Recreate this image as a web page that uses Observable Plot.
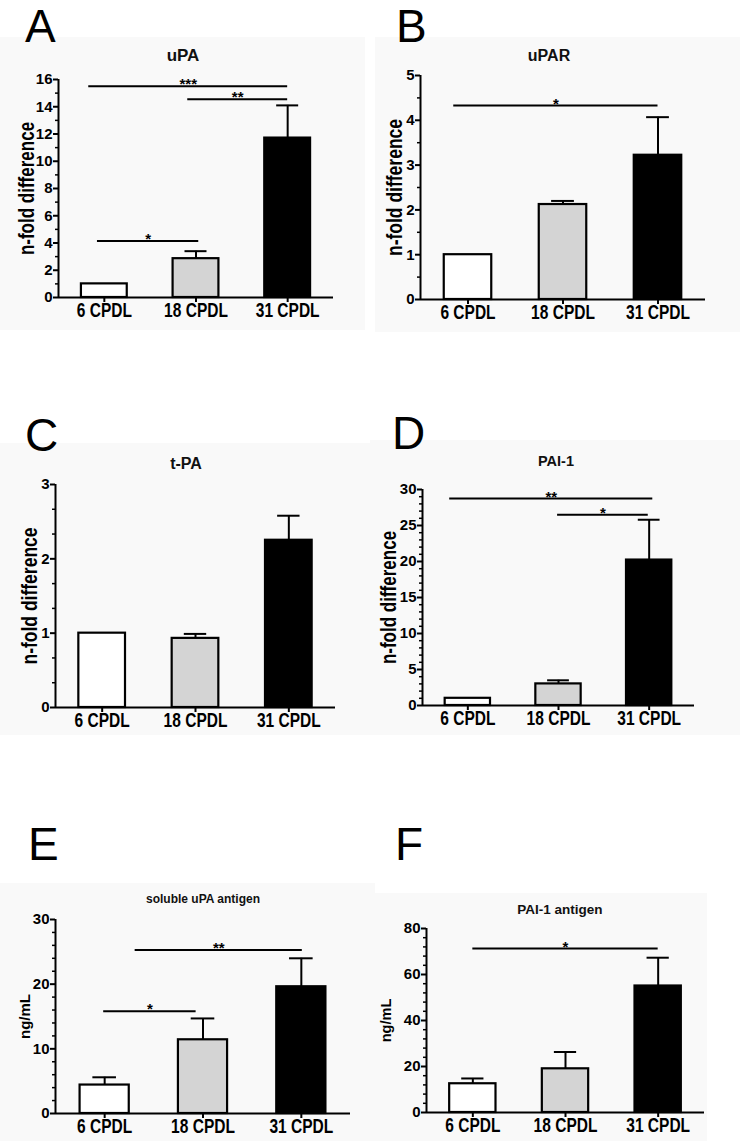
<!DOCTYPE html>
<html>
<head>
<meta charset="utf-8">
<script src="https://cdn.jsdelivr.net/npm/d3@7"></script>
<script src="https://cdn.jsdelivr.net/npm/@observablehq/plot@0.6"></script>
<style>
  html, body { margin: 0; padding: 0; background: #ffffff; }
  #page { position: relative; width: 740px; height: 1141px; overflow: hidden; font-family: "Liberation Sans", Arial, sans-serif; color: #000; }
  .panel { position: absolute; }
  .letter { position: absolute; font-size: 46px; line-height: 46px; font-weight: normal; color: #000; }
  .title { position: absolute; width: 240px; text-align: center; font-weight: bold; color: #111; white-space: nowrap; }
</style>
</head>
<body>
<div id="page"></div>
<script>
// ---------- data ----------
const categories = ["6 CPDL", "18 CPDL", "31 CPDL"];
const barColors = ["#ffffff", "#d4d4d4", "#000000"];

// A: uPA (n-fold difference)
const uPA_mean = [1, 2.85, 11.7];
const uPA_errTop = [null, 3.4, 14.1];
const uPA_sigFrom = [-0.17, 0.91, -0.075];
const uPA_sigTo = [2.0, 2.0, 1.03];
const uPA_sigY = [15.5, 14.55, 4.15];
const uPA_sigText = ["***", "**", "*"];

// B: uPAR
const uPAR_mean = [1, 2.12, 3.22];
const uPAR_errTop = [null, 2.2, 4.07];
const uPAR_sigFrom = [-0.15];
const uPAR_sigTo = [2.0];
const uPAR_sigY = [4.33];
const uPAR_sigText = ["*"];

// C: t-PA
const tPA_mean = [1, 0.93, 2.25];
const tPA_errTop = [null, 0.99, 2.58];
const tPA_sigFrom = [];
const tPA_sigTo = [];
const tPA_sigY = [];
const tPA_sigText = [];

// D: PAI-1
const PAI1_mean = [1, 3.0, 20.2];
const PAI1_errTop = [null, 3.5, 25.8];
const PAI1_sigFrom = [-0.2, 0.99];
const PAI1_sigTo = [2.04, 1.99];
const PAI1_sigY = [28.75, 26.5];
const PAI1_sigText = ["**", "*"];

// E: soluble uPA antigen (ng/mL)
const suPA_mean = [4.4, 11.4, 19.6];
const suPA_errTop = [5.6, 14.7, 24.0];
const suPA_sigFrom = [-0.01, 0.31];
const suPA_sigTo = [0.93, 2.01];
const suPA_sigY = [15.8, 25.3];
const suPA_sigText = ["*", "**"];

// F: PAI-1 antigen (ng/mL)
const PAI1ag_mean = [12.5, 19, 55];
const PAI1ag_errTop = [14.8, 26.3, 67.3];
const PAI1ag_sigFrom = [0];
const PAI1ag_sigTo = [2];
const PAI1ag_sigY = [71.3];
const PAI1ag_sigText = ["*"];

// axis settings (domain max, major step, minor per major)
const yMax = { A: 16, B: 5, C: 3, D: 30, E: 30, F: 80 };
const yMajor = { A: 2, B: 1, C: 1, D: 5, E: 10, F: 20 };
const yMinorPer = { A: 2, B: 2, C: 3, D: 5, E: 5, F: 5 };

// ---------- drawing ----------
const page = document.getElementById("page");
const BG = "#f9f9f9";

// condense a text: keep the advance width it has at baseSize, but draw it taller
function condense(t, baseSize, tallSize) {
  t.style.fontSize = baseSize + "px";
  t.style.fontWeight = "bold";
  const len = t.getComputedTextLength();
  t.style.fontSize = tallSize + "px";
  t.setAttribute("textLength", len.toFixed(1));
  t.setAttribute("lengthAdjust", "spacingAndGlyphs");
}

function drawPanel(cfg) {
  const { id, mean, errTop, sigFrom, sigTo, sigY, sigText, box, m, ylabel, labelDx, labelSize, labelTall } = cfg;
  const ymax = yMax[id], major = yMajor[id], per = yMinorPer[id];
  const bars = mean.map((v, i) => ({ i, mean: v, color: barColors[i] }));
  const errs = mean.map((v, i) => ({ i, mean: v, top: errTop[i] })).filter(d => d.top != null);
  const sig = sigFrom.map((f, k) => ({ x1: f, x2: sigTo[k], y: sigY[k], text: sigText[k] }));
  const majorTicks = d3.range(0, Math.round(ymax / major) + 1).map(k => k * major);
  const minorTicks = d3.range(0, Math.round(ymax / major) * per + 1)
    .filter(k => k % per !== 0).map(k => k * major / per);

  const chart = Plot.plot({
    width: box.w, height: box.h,
    marginLeft: m[0], marginRight: m[1], marginTop: m[2], marginBottom: m[3],
    style: { background: BG, color: "#000", fontFamily: "'Liberation Sans', Arial, sans-serif", fontSize: "15px", fontWeight: "bold", overflow: "visible" },
    x: { type: "linear", domain: [-0.5, 2.5], axis: null },
    y: { domain: [0, ymax], axis: null },
    color: { type: "identity" },
    marks: [
      Plot.axisY({ ticks: majorTicks, tickSize: 5, tickPadding: 1, strokeWidth: 2, fontSize: 15, fontWeight: "bold", label: null, tickFormat: d => d }),
      Plot.axisY({ ticks: minorTicks, tickSize: 3, tickPadding: 0, strokeWidth: 1.5, label: null, tickFormat: () => "" }),
      Plot.axisX({ ticks: [0, 1, 2], tickFormat: i => categories[i], tickSize: 5, tickPadding: 0, strokeWidth: 2, fontSize: 20, fontWeight: "bold", label: null }),
      Plot.ruleX([-0.5], { y1: 0, y2: ymax, strokeWidth: 2 }),
      Plot.ruleY([0], { strokeWidth: 2.2 }),
      Plot.ruleX(errs, { x: "i", y1: "mean", y2: "top", strokeWidth: 2 }),
      Plot.ruleY(errs, { x1: d => d.i - 0.12, x2: d => d.i + 0.12, y: "top", strokeWidth: 2 }),
      Plot.rectY(bars, { x1: d => d.i - 0.25, x2: d => d.i + 0.25, y1: 0, y2: "mean", fill: "color", stroke: "#000", strokeWidth: 2.2 }),
      Plot.ruleY(sig, { x1: "x1", x2: "x2", y: "y", strokeWidth: 2 }),
      Plot.text(sig, { x: d => (d.x1 + d.x2) / 2, y: "y", text: "text", lineAnchor: "bottom", dy: 3, fontSize: 15, fontWeight: "bold" }),
      Plot.text([ylabel], { frameAnchor: "left", textAnchor: "middle", lineAnchor: "middle", rotate: -90, dx: labelDx, text: d => d, fontSize: labelSize, fontWeight: "bold" })
    ]
  });
  const div = document.createElement("div");
  div.className = "panel";
  div.style.left = box.x + "px";
  div.style.top = box.y + "px";
  div.appendChild(chart);
  page.appendChild(div);

  // condensed look of the category labels and the y label, as in the reference
  chart.querySelectorAll("text").forEach(t => {
    if (categories.includes(t.textContent)) condense(t, 15.5, 20);
    else if (t.textContent === ylabel && labelTall) condense(t, labelSize, labelTall);
  });
}

function addLetter(ch, x, baseline) {
  const d = document.createElement("div");
  d.className = "letter";
  d.textContent = ch;
  d.style.left = x + "px";
  d.style.top = (baseline - 0.8465 * 46) + "px";
  page.appendChild(d);
}

function addTitle(text, cx, cy, size) {
  const d = document.createElement("div");
  d.className = "title";
  d.textContent = text;
  d.style.fontSize = size + "px";
  d.style.lineHeight = size + "px";
  const baseline = cy + 0.358 * size;
  d.style.left = (cx - 120) + "px";
  d.style.top = (baseline - 0.8465 * size) + "px";
  page.appendChild(d);
}

drawPanel({ id: "A", mean: uPA_mean, errTop: uPA_errTop, sigFrom: uPA_sigFrom, sigTo: uPA_sigTo, sigY: uPA_sigY, sigText: uPA_sigText,
  box: { x: 0, y: 37, w: 365, h: 293 }, m: [58, 32, 42, 33], ylabel: "n-fold difference", labelDx: -32, labelSize: 17, labelTall: 22 });
drawPanel({ id: "B", mean: uPAR_mean, errTop: uPAR_errTop, sigFrom: uPAR_sigFrom, sigTo: uPAR_sigTo, sigY: uPAR_sigY, sigText: uPAR_sigText,
  box: { x: 375, y: 37, w: 365, h: 295 }, m: [45, 35, 38, 33], ylabel: "n-fold difference", labelDx: -26, labelSize: 17.5, labelTall: 22 });
drawPanel({ id: "C", mean: tPA_mean, errTop: tPA_errTop, sigFrom: tPA_sigFrom, sigTo: tPA_sigTo, sigY: tPA_sigY, sigText: tPA_sigText,
  box: { x: 0, y: 443, w: 370, h: 292 }, m: [55, 35, 41, 28], ylabel: "n-fold difference", labelDx: -26, labelSize: 17.5, labelTall: 22 });
drawPanel({ id: "D", mean: PAI1_mean, errTop: PAI1_errTop, sigFrom: PAI1_sigFrom, sigTo: PAI1_sigTo, sigY: PAI1_sigY, sigText: PAI1_sigText,
  box: { x: 370, y: 440, w: 370, h: 295 }, m: [52, 46, 49, 30], ylabel: "n-fold difference", labelDx: -34, labelSize: 17, labelTall: 22 });
drawPanel({ id: "E", mean: suPA_mean, errTop: suPA_errTop, sigFrom: suPA_sigFrom, sigTo: suPA_sigTo, sigY: suPA_sigY, sigText: suPA_sigText,
  box: { x: 0, y: 883, w: 375, h: 258 }, m: [55, 25, 36, 28], ylabel: "ng/mL", labelDx: -30, labelSize: 15 });
drawPanel({ id: "F", mean: PAI1ag_mean, errTop: PAI1ag_errTop, sigFrom: PAI1ag_sigFrom, sigTo: PAI1ag_sigTo, sigY: PAI1ag_sigY, sigText: PAI1ag_sigText,
  box: { x: 375, y: 893, w: 332, h: 248 }, m: [51, 3, 35, 29], ylabel: "ng/mL", labelDx: -40, labelSize: 14.5 });

addLetter("A", 25, 42);
addLetter("B", 396, 42);
addLetter("C", 25, 451);
addLetter("D", 392, 449);
addLetter("E", 28, 860);
addLetter("F", 395, 860);

addTitle("uPA", 183, 55, 17);
addTitle("uPAR", 549, 56, 16);
addTitle("t-PA", 186, 464, 16);
addTitle("PAI-1", 556, 461, 14.5);
addTitle("soluble uPA antigen", 203, 899, 12);
addTitle("PAI-1 antigen", 560, 910, 13.5);
</script>
</body>
</html>
